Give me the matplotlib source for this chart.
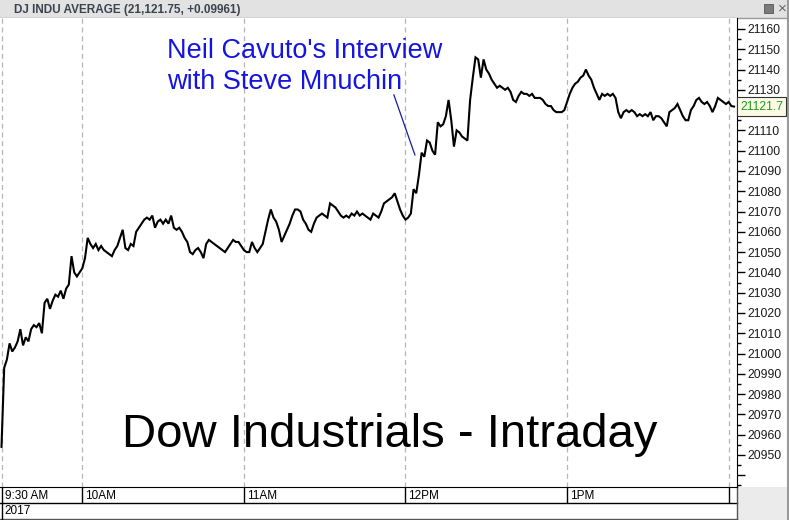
import matplotlib
matplotlib.use('Agg')
import matplotlib.pyplot as plt
from matplotlib.transforms import blended_transform_factory, ScaledTranslation
from matplotlib.patches import Rectangle

plt.rcParams['font.family'] = ['Liberation Sans', 'DejaVu Sans']

# ---------------- data ----------------
title = "DJ INDU AVERAGE (21,121.75, +0.09961)"
last_price = 21121.75
last_label = "21121.7"
year_label = "2017"
note = "Neil Cavuto's Interview\nwith Steve Mnuchin"
big_title = "Dow Industrials - Intraday"

# minutes after 9:30 AM
minutes = list(range(273))
prices = [
    20954, 20993, 20997, 21005, 21001, 21003, 21006, 21012, 21004, 21008,
    21006, 21012, 21014, 21013, 21015, 21010, 21025, 21027, 21022, 21026,
    21029, 21028, 21031, 21027, 21032, 21034, 21048, 21040, 21038, 21040,
    21042, 21047, 21057, 21054, 21052, 21054, 21051, 21053, 21051, 21050,
    21049, 21048, 21051, 21053, 21057, 21061, 21052, 21051, 21054, 21053,
    21060, 21062, 21064, 21066, 21067, 21066, 21068, 21062, 21065, 21066,
    21064, 21066, 21064, 21068, 21062, 21061, 21062, 21060, 21057, 21055,
    21050, 21049, 21051, 21052, 21050, 21047, 21054, 21056, 21055, 21054,
    21053, 21052, 21051, 21050, 21052, 21054, 21056, 21055, 21055, 21053,
    21051, 21050, 21050, 21055, 21052, 21050, 21052, 21054, 21060, 21066,
    21071, 21067, 21065, 21061, 21055, 21058, 21061, 21064, 21068, 21071,
    21071, 21070, 21066, 21064, 21061, 21060, 21064, 21067, 21068, 21069,
    21068, 21067, 21074, 21073, 21072, 21070, 21068, 21067, 21068, 21067,
    21069, 21068, 21070, 21068, 21069, 21068, 21067, 21066, 21069, 21068,
    21067, 21070, 21074, 21075, 21076, 21077, 21079, 21075, 21071, 21068,
    21066, 21067, 21069, 21081, 21079, 21088, 21099, 21097, 21105, 21104,
    21100, 21098, 21114, 21112, 21113, 21117, 21125, 21115, 21102, 21110,
    21109, 21107, 21106, 21105, 21125, 21136, 21146, 21145, 21136, 21145,
    21140, 21138, 21135, 21133, 21131, 21132, 21131, 21130, 21131, 21129,
    21125, 21124, 21127, 21129, 21128, 21128, 21127, 21128, 21126, 21126,
    21126, 21125, 21123, 21122, 21122, 21120, 21119, 21119, 21119, 21120,
    21124, 21128, 21131, 21133, 21134, 21136, 21137, 21140, 21137, 21135,
    21131, 21128, 21125, 21128, 21127, 21128, 21127, 21128, 21126, 21119,
    21116, 21119, 21120, 21119, 21120, 21119, 21117, 21118, 21117, 21118,
    21117, 21119, 21115, 21117, 21117, 21116, 21114, 21112, 21119, 21120,
    21121, 21123, 21120, 21117, 21115, 21115, 21120, 21122, 21125, 21126,
    21124, 21123, 21124, 21122, 21119, 21122, 21126, 21125, 21124, 21123,
    21124, 21122, 21121.75,
]

hour_ticks = [0, 30, 90, 150, 210, 270]
hour_labels = ["9:30 AM", "10AM", "11AM", "12PM", "1PM", ""]
y_ticks = list(range(20940, 21161, 10))
# 20940 has no room for a label; 21120 sits under the last-price box
y_labels = [str(v) if (v >= 20950 and v != 21120) else "" for v in y_ticks]

note_line_min = [145.7, 153.5]
note_line_price = [21127.5, 21097.9]

# ---------------- figure ----------------
W, H = 789, 520
fig = plt.figure(figsize=(W / 100, H / 100), dpi=100)
fig.patch.set_facecolor('white')

# chrome overlay in pixel coords
ov = fig.add_axes([0, 0, 1, 1])
ov.set_xlim(0, W)
ov.set_ylim(H, 0)
ov.axis('off')
ov.add_patch(Rectangle((0, 0), W, 18, facecolor='#e2e2e2', edgecolor='none'))
ov.plot([0, W], [18, 18], color='#9a9a9a', lw=1)
ov.text(14, 9.5, title, fontsize=8.5, fontweight='bold', color='#3a4450',
        va='center', ha='left')
ov.add_patch(Rectangle((764, 4), 9, 9, facecolor='#7a7a7a', edgecolor='#555555', lw=0.6))
ov.text(782, 9, "\u00d7", fontsize=11, color='#666666', va='center', ha='center')
# bottom rows
ov.plot([0, 737], [503, 503], color='black', lw=1)
ov.plot([0, 737], [519, 519], color='#555555', lw=1)
ov.plot([2, 2], [503, 519], color='black', lw=1)
ov.text(4, 511.5, year_label, fontsize=8.5, color='black', va='center', ha='left')
ov.add_patch(Rectangle((737, 487), W - 737, H - 487, facecolor='#ebebeb', edgecolor='none'))
ov.plot([737, 737], [487, 520], color='#555555', lw=1)
ov.plot([788, 788], [0, 520], color='#9a9a9a', lw=1.5)

# main axes
ax = fig.add_axes([0, (H - 487) / H, 737 / W, (487 - 18) / H])
ax.set_facecolor('white')
ax.set_xlim(-0.557, 273.1)
ax.set_ylim(20934.2, 21165.4)

for s in ['left', 'top']:
    ax.spines[s].set_visible(False)
ax.spines['right'].set_color('black')
ax.spines['bottom'].set_color('black')

ax.plot(minutes, prices, color='black', lw=1.5, solid_joinstyle='miter')

# y axis on right
ax.yaxis.tick_right()
ax.set_yticks(y_ticks)
ax.set_yticklabels(y_labels)
ax.set_yticks([v + 5 for v in y_ticks[:-1]] + [20935], minor=True)
ax.tick_params(axis='y', which='major', length=5.8, width=1, pad=2,
               labelsize=8.8, labelcolor='#1a1a1a', direction='out')
ax.tick_params(axis='y', which='minor', length=2.9, width=1, direction='out')

# x axis: hour separators + labels
ax.set_xticks(hour_ticks)
ax.set_xticklabels(hour_labels)
ax.tick_params(axis='x', which='major', length=11.5, width=1, pad=-9.3,
               labelsize=8.5, direction='out')
off = ScaledTranslation(3 / 100, 0, fig.dpi_scale_trans)
for lbl in ax.get_xticklabels():
    lbl.set_ha('left')
    lbl.set_transform(lbl.get_transform() + off)
ax.grid(axis='x', ls=(0, (4, 3)), color='#b5b5b5', lw=0.9)

# last price box
bt = blended_transform_factory(ax.transAxes, ax.transData)
ax.text(1.004, last_price, last_label, transform=bt, fontsize=8.8, color='#1f9a1f',
        va='center', ha='left', clip_on=False, zorder=5,
        bbox=dict(boxstyle='square,pad=0.25', facecolor='#fbfbe6', edgecolor='#333333', lw=0.8))

# annotation
ax.plot(note_line_min, note_line_price, color='#1a1aa0', lw=0.9)
ax.text(61.4, 21155.5, note, fontsize=19.5, color='#1515e0', va='top', ha='left',
        linespacing=1.24)
ax.text(144.3, 20954, big_title, fontsize=34, color='black', va='baseline', ha='center')

fig.savefig('out.png', dpi=100)
